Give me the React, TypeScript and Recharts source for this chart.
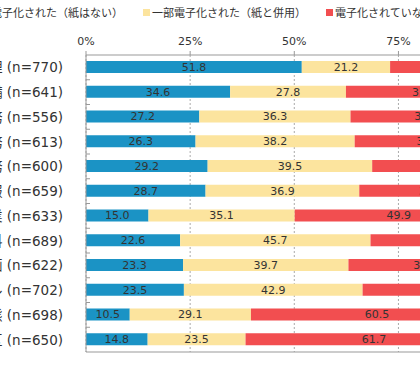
import React from 'react'
import { BarChart, Bar, XAxis, YAxis, CartesianGrid, LabelList } from 'recharts'

const CATEGORIES = ['経理', '設備', '総務', '財務', '法務', '情報', '営業', '資料', '企画', 'メール', '業態', '地区']
const SAMPLE_N = [770, 641, 556, 613, 600, 659, 633, 689, 622, 702, 698, 650]
const FULLY = [51.8, 34.6, 27.2, 26.3, 29.2, 28.7, 15.0, 22.6, 23.3, 23.5, 10.5, 14.8]
const PARTLY = [21.2, 27.8, 36.3, 38.2, 39.5, 36.9, 35.1, 45.7, 39.7, 42.9, 29.1, 23.5]
const NONE = [27.0, 37.6, 36.5, 35.5, 31.3, 34.4, 49.9, 31.7, 37.0, 33.6, 60.5, 61.7]
const TICKS = [0, 25, 50, 75, 100]
const SERIES = [
  { key: 'fully', label: '電子化された（紙はない）', color: '#1b93c5' },
  { key: 'partly', label: '一部電子化された（紙と併用）', color: '#fce49e' },
  { key: 'none', label: '電子化されていない', color: '#f24e50' },
]

const FONT = "'DejaVu Sans', 'Noto Sans CJK JP', sans-serif"
const AXIS_W = 186
const ROW_H = 297 / 12

const data = CATEGORIES.map((c, i) => ({
  name: `${c} (n=${SAMPLE_N[i]})`,
  fully: FULLY[i],
  partly: PARTLY[i],
  none: NONE[i],
}))

function CatTick(props: any) {
  const { y, payload, index } = props
  return (
    <g>
      <text x={AXIS_W - 23} y={y} dy={5} textAnchor="end" fontSize={13.5} fill="#333" fontFamily={FONT}>
        {payload.value}
      </text>
      {index < CATEGORIES.length - 1 && (
        <line x1={AXIS_W} x2={AXIS_W + 4} y1={y + ROW_H / 2} y2={y + ROW_H / 2} stroke="#999" />
      )}
    </g>
  )
}

export default function App() {
  return (
    <div style={{ position: 'absolute', left: 0, top: 0, width: 420, height: 366, overflow: 'hidden', background: '#fff', fontFamily: FONT }}>
      <div style={{ position: 'absolute', top: 4, left: -18, display: 'flex', gap: 20, fontSize: 11, color: '#333', whiteSpace: 'nowrap' }}>
        {SERIES.map((s) => (
          <div key={s.key} style={{ display: 'flex', alignItems: 'center' }}>
            <span style={{ display: 'inline-block', width: 7, height: 7, background: s.color, marginRight: 2 }} />
            <span>{s.label}</span>
          </div>
        ))}
      </div>
      <div style={{ position: 'absolute', left: -100, top: 0 }}>
        <BarChart
          width={624}
          height={360}
          data={data}
          layout="vertical"
          barSize={12}
          margin={{ top: 25, right: 21, left: 0, bottom: 7 }}
        >
          <CartesianGrid xAxisId="top" horizontal={false} stroke="#aaa" strokeDasharray="2 2" />
          <XAxis
            xAxisId="top"
            orientation="top"
            type="number"
            domain={[0, 100]}
            ticks={TICKS}
            tickFormatter={(v) => `${v}%`}
            height={30}
            tickSize={4}
            tickMargin={6}
            stroke="#999"
            tick={{ fill: '#333', fontSize: 11, fontFamily: FONT }}
          />
          <XAxis xAxisId="bottom" orientation="bottom" type="number" domain={[0, 100]} height={1} tick={false} tickLine={false} stroke="#999" />
          <YAxis
            type="category"
            dataKey="name"
            width={AXIS_W}
            tickLine={false}
            stroke="#999"
            tick={<CatTick />}
            interval={0}
          />
          {SERIES.map((s) => (
            <Bar key={s.key} dataKey={s.key} stackId="a" xAxisId="top" fill={s.color} isAnimationActive={false}>
              <LabelList
                dataKey={s.key}
                position="center"
                formatter={(v: number) => v.toFixed(1)}
                fill="#333"
                fontSize={11}
                fontFamily={FONT}
              />
            </Bar>
          ))}
        </BarChart>
      </div>
    </div>
  )
}
